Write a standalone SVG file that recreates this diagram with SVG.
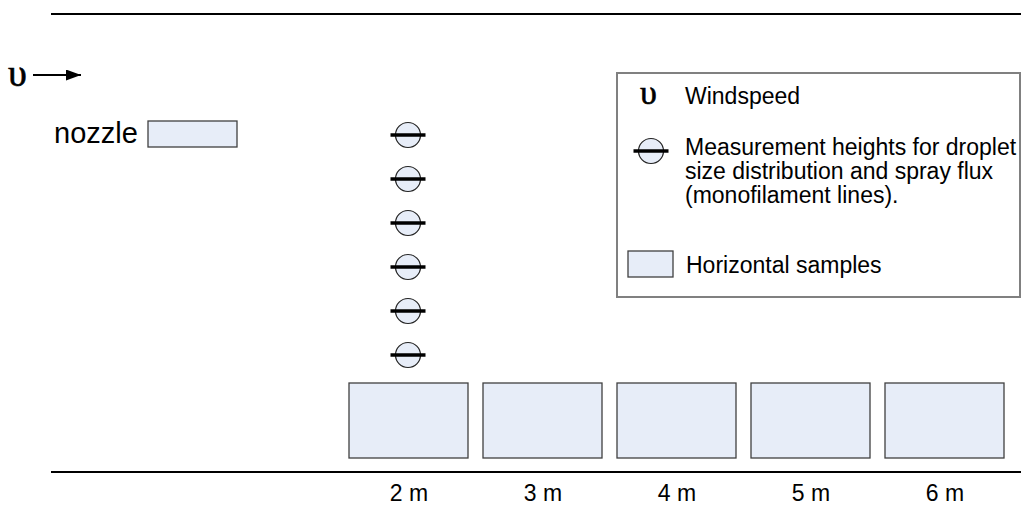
<svg xmlns="http://www.w3.org/2000/svg" width="1021" height="507" viewBox="0 0 1021 507">
<style>
.t{font-family:"Liberation Sans",Arial,sans-serif;fill:#000}
.u{font-family:"Liberation Serif","Times New Roman",serif;fill:#000;stroke:#000;stroke-width:0.6}
.box{fill:#e7edf8;stroke:#404040;stroke-width:1.3}
.circ{fill:#e7edf8;stroke:#222;stroke-width:1.2}
.bar{stroke:#000;stroke-width:3.5}
.rule{stroke:#000;stroke-width:2.2}
</style>
<defs>
<marker id="ah" markerWidth="15" markerHeight="11" refX="15" refY="5.5" orient="auto" markerUnits="userSpaceOnUse">
<path d="M0,0 L15,5.5 L0,11 Z" fill="#000"/>
</marker>
<g id="meas">
<circle class="circ" cx="0" cy="0" r="12.5"/>
<line class="bar" x1="-17.5" y1="0" x2="17.5" y2="0"/>
</g>
</defs>
<g id="ground-lines">
<line class="rule" x1="51" y1="14" x2="1021" y2="14"/>
<line class="rule" x1="51" y1="472" x2="1021" y2="472"/>
</g>
<g id="wind">
<text class="u" x="8" y="86" font-size="38">υ</text>
</g>
<g id="connectors">
<line x1="33" y1="75" x2="81" y2="75" stroke="#000" stroke-width="2" marker-end="url(#ah)"/>
</g>
<g id="nozzle">
<text class="t" x="54" y="143" font-size="29">nozzle</text>
<rect class="box" x="148" y="121" width="89" height="26"/>
</g>
<g id="measurement-heights">
<use href="#meas" x="408" y="135"/>
<use href="#meas" x="408" y="179"/>
<use href="#meas" x="408" y="223"/>
<use href="#meas" x="408" y="267"/>
<use href="#meas" x="408" y="311"/>
<use href="#meas" x="408" y="355"/>
</g>
<g id="samples">
<rect class="box" x="349" y="383" width="119" height="75"/>
<rect class="box" x="483" y="383" width="119" height="75"/>
<rect class="box" x="617" y="383" width="119" height="75"/>
<rect class="box" x="751" y="383" width="119" height="75"/>
<rect class="box" x="885" y="383" width="119" height="75"/>
</g>
<g id="distance-labels" class="t" font-size="23" text-anchor="middle">
<text x="409" y="501">2 m</text>
<text x="543" y="501">3 m</text>
<text x="677" y="501">4 m</text>
<text x="811" y="501">5 m</text>
<text x="945" y="501">6 m</text>
</g>
<g id="legend">
<rect x="617" y="73" width="403" height="224" fill="none" stroke="#808080" stroke-width="2"/>
<text class="u" x="640" y="104" font-size="34">υ</text>
<text class="t" x="685" y="104" font-size="23">Windspeed</text>
<use href="#meas" x="651" y="151"/>
<text class="t" font-size="23">
<tspan x="685" y="155">Measurement heights for droplet</tspan>
<tspan x="685" y="179">size distribution and spray flux</tspan>
<tspan x="685" y="203">(monofilament lines).</tspan>
</text>
<rect class="box" x="628" y="251" width="45" height="26"/>
<text class="t" x="686" y="273" font-size="23">Horizontal samples</text>
</g>
</svg>
